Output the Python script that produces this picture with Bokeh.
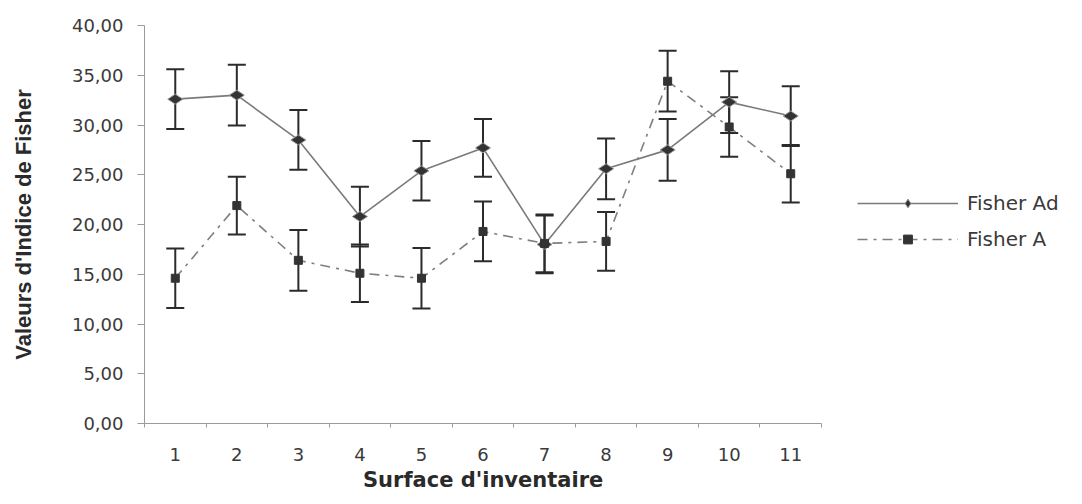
from bokeh.plotting import figure
from bokeh.models import (ColumnDataSource, Range1d, FixedTicker, Whisker, TeeHead,
                          Legend, LegendItem, Title)
from bokeh.embed import file_html
from bokeh.resources import INLINE

# Surface d'inventaire (1..11)
surfaces = [1, 2, 3, 4, 5, 6, 7, 8, 9, 10, 11]

# Fisher Ad: values and error half-widths
ad_vals = [32.6, 33.0, 28.5, 20.8, 25.4, 27.7, 18.0, 25.6, 27.5, 32.3, 30.9]
ad_err = [3.0, 3.05, 3.0, 3.0, 3.0, 2.9, 2.9, 3.05, 3.1, 3.1, 3.0]

# Fisher A: values and error half-widths
a_vals = [14.6, 21.9, 16.4, 15.1, 14.6, 19.3, 18.1, 18.3, 34.4, 29.8, 25.1]
a_err = [3.0, 2.9, 3.05, 2.9, 3.05, 3.0, 2.9, 2.95, 3.05, 3.0, 2.9]

y_ticks = [0, 5, 10, 15, 20, 25, 30, 35, 40]
y_tick_labels = {t: f"{t},00" for t in y_ticks}

ad_src = ColumnDataSource(dict(
    x=surfaces, y=ad_vals,
    lo=[v - e for v, e in zip(ad_vals, ad_err)],
    hi=[v + e for v, e in zip(ad_vals, ad_err)],
))
a_src = ColumnDataSource(dict(
    x=surfaces, y=a_vals,
    lo=[v - e for v, e in zip(a_vals, a_err)],
    hi=[v + e for v, e in zip(a_vals, a_err)],
))

# Layout: the plotting frame runs to the right edge so the legend can live
# inside it; the x axis itself is bounded to the 11 surfaces.
W, H = 1082, 504
LEFT, TOP, BOTTOM = 144, 25, 81
AXIS_PX = 677                      # drawn length of the x axis
x_lo, x_hi = 0.5, 11.5
x_end = x_lo + (x_hi - x_lo) * (W - LEFT) / AXIS_PX

p = figure(width=W, height=H, output_backend="svg", toolbar_location=None,
           x_range=Range1d(x_lo, x_end), y_range=Range1d(0, 40),
           min_border_left=LEFT, min_border_right=0,
           min_border_top=TOP, min_border_bottom=BOTTOM)
p.outline_line_color = None
p.xgrid.visible = False
p.ygrid.visible = False
p.background_fill_color = "white"
p.border_fill_color = "white"

TICK_FONT = "DejaVu Sans"
TEXT_COLOR = "#3a3a3a"
AXIS_COLOR = "#9a9a9a"

# y axis
ya = p.yaxis[0]
ya.ticker = FixedTicker(ticks=y_ticks)
ya.major_label_overrides = y_tick_labels
ya.axis_line_color = AXIS_COLOR
ya.major_tick_line_color = AXIS_COLOR
ya.major_tick_out = 7
ya.major_tick_in = 0
ya.minor_tick_line_color = None
ya.major_label_text_font = TICK_FONT
ya.major_label_text_font_size = "18px"
ya.major_label_text_color = TEXT_COLOR
ya.major_label_standoff = 14
ya.axis_label = "Valeurs d'Indice de Fisher"
ya.axis_label_text_font = "Liberation Sans"
ya.axis_label_text_font_style = "bold"
ya.axis_label_text_font_size = "22px"
ya.axis_label_text_color = "#2a2a2a"
ya.axis_label_standoff = 33

# x axis: labels at category centres, tick marks on the boundaries
xa = p.xaxis[0]
xa.bounds = (x_lo, x_hi)
xa.ticker = FixedTicker(ticks=surfaces, minor_ticks=[s - 0.5 for s in surfaces] + [x_hi])
xa.axis_line_color = AXIS_COLOR
xa.major_tick_line_color = None
xa.major_tick_out = 0
xa.major_tick_in = 0
xa.minor_tick_line_color = AXIS_COLOR
xa.minor_tick_out = 4
xa.minor_tick_in = 0
xa.major_label_text_font = TICK_FONT
xa.major_label_text_font_size = "18px"
xa.major_label_text_color = TEXT_COLOR
xa.major_label_standoff = 20

# x axis title, centred under the bounded axis
XTITLE = "Surface d'inventaire"
XTITLE_W = 240                     # rendered width of the title text
p.add_layout(Title(text=XTITLE, align="left",
                   offset=AXIS_PX / 2 - XTITLE_W / 2,
                   text_font=TICK_FONT, text_font_style="bold",
                   text_font_size="21px", text_color="#2a2a2a",
                   text_line_height=1.5, vertical_align="bottom",
                   standoff=4), "below")

# series lines
ad_line = p.line("x", "y", source=ad_src, line_color="#7a7a7a", line_width=1.6)
a_line = p.line("x", "y", source=a_src, line_color="#7f7f7f", line_width=1.6,
                line_dash="10 6 3 6")

# error bars
for src in (ad_src, a_src):
    p.add_layout(Whisker(source=src, base="x", lower="lo", upper="hi",
                         line_color="#2b2b2b", line_width=2,
                         upper_head=TeeHead(size=18, line_color="#2b2b2b", line_width=2),
                         lower_head=TeeHead(size=18, line_color="#2b2b2b", line_width=2)))

# markers
ad_pts = p.scatter("x", "y", source=ad_src, marker="diamond", size=15, angle=1.5708,
                   fill_color="#333333", line_color="#9a9a9a", line_width=1)
a_pts = p.scatter("x", "y", source=a_src, marker="square", size=8,
                  fill_color="#333333", line_color="#333333")

# legend to the right of the data
legend = Legend(items=[
    LegendItem(label="Fisher Ad", renderers=[ad_line, ad_pts]),
    LegendItem(label="Fisher A", renderers=[a_line, a_pts]),
], location=(713, 172))
legend.glyph_width = 101
legend.glyph_height = 22
legend.spacing = 12
legend.label_standoff = 9
legend.label_text_font = TICK_FONT
legend.label_text_font_size = "20px"
legend.label_text_color = TEXT_COLOR
legend.background_fill_alpha = 0
legend.border_line_color = None
legend.padding = 0
legend.margin = 0
p.add_layout(legend, "center")

open("out.html", "w").write(file_html(p, INLINE))
